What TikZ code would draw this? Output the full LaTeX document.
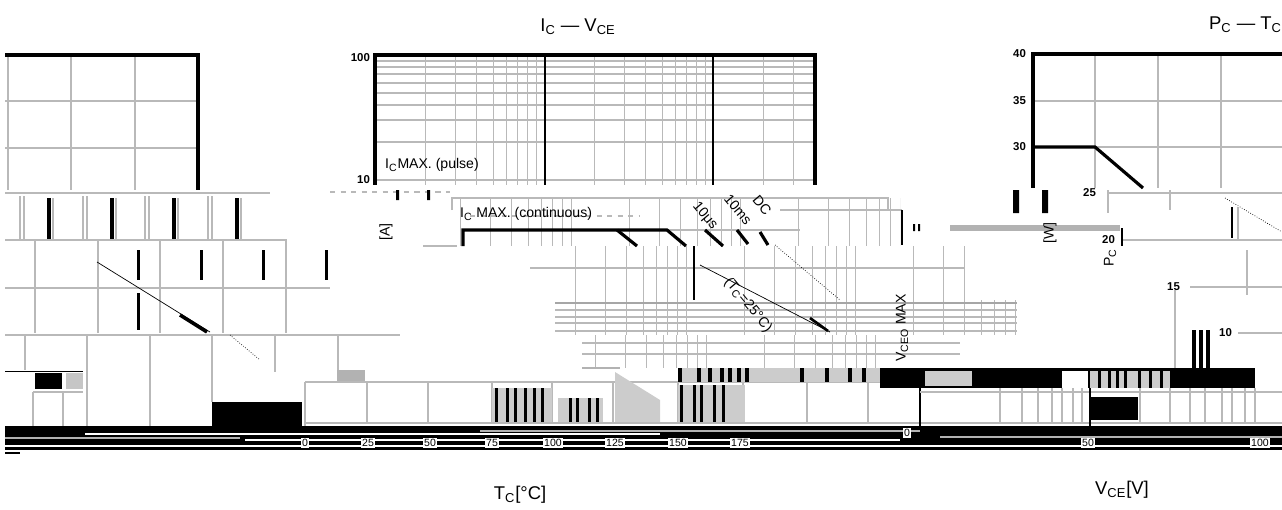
\documentclass[tikz,border=0pt]{standalone}
\usepackage{fontspec}
\setmainfont{Liberation Sans}
\usetikzlibrary{positioning}

\tikzset{
  gridln/.style={gray!55, line width=1pt},
  thinln/.style={gray!55, line width=0.6pt},
  frameln/.style={black, line width=2pt},
  curveln/.style={black, line width=1.8pt},
  ticklbl/.style={font=\fontsize{6.5}{7}\selectfont\bfseries, inner sep=1pt},
  midlbl/.style={font=\fontsize{8}{9}\selectfont, inner sep=1pt},
  axlbl/.style={font=\fontsize{10.5}{12}\selectfont, inner sep=1pt},
  bandlbl/.style={font=\fontsize{6}{7}\selectfont, fill=white, inner sep=0.6pt}
}

% log-spaced verticals: origin, x-min, x-max, y-top, y-bottom
\newcommand{\logverts}[5]{%
  \begin{scope}
    \clip (#2,#4) rectangle (#3,#5);
    \foreach \d in {0,1,2}
      \foreach \v in {2,...,9}
        \draw[thinln] ({#1+169*(\d+log10(\v))},#4) -- ({#1+169*(\d+log10(\v))},#5);
  \end{scope}}

\begin{document}
\begin{tikzpicture}[x=0.02cm, y=-0.02cm]
\useasboundingbox (0,0) rectangle (1282,510);

% left chart
\foreach \x in {8,71,135} \draw[gridln] (\x,55) -- (\x,190);
\foreach \y in {101,148} \draw[gridln] (5,\y) -- (198,\y);
\draw[frameln] (5,55) -- (198,55) -- (198,190);
\draw[gridln] (5,193) -- (270,193);
\foreach \x in {20,83,145,208} \draw[thinln] (\x,196) -- (\x,240) (\x+4,196) -- (\x+4,240);
\foreach \x in {47,110,172,235} {
  \fill (\x,198) rectangle (\x+3.5,240);
  \draw[thinln] (\x+6,198) -- (\x+6,240);
}
\draw[gridln] (5,240) -- (287,240);
\foreach \x in {35,98,160,223,286} \draw[gridln] (\x,240) -- (\x,333);
\foreach \x in {137,200,262,325} \fill (\x,250) rectangle (\x+3,280);
\fill (137,293) rectangle (140,330);
\draw[gridln] (5,288) -- (330,288);
\draw[gridln] (5,335) -- (400,335);
\draw[thin] (97,262) -- (210,332);
\draw[line width=2pt] (180,315) -- (207,332);
\draw[thin, densely dotted] (230,335) -- (260,360);

% left lower panels
\foreach \x/\yb in {25/370,87/428,150/428,212/402,275/372,338/370}
  \draw[gridln] (\x,335) -- (\x,\yb);
\draw (5,371) -- (83,371);
\fill (35,373) rectangle (62,389);
\fill[gray!45] (66,373) rectangle (83,389);
\draw[thinln] (33,392) -- (83,392) (33,392) -- (33,428) (63,392) -- (63,428);
\fill (212,402) rectangle (302,428);
\fill[gray!60] (337,370) rectangle (365,382);
\draw[gridln] (305,382) -- (920,382);
\draw[gridln] (305,382) -- (305,428);
\foreach \x in {367,428,492,552,613,678,743,807,868} \draw[thinln] (\x,382) -- (\x,423);
\fill[gray!40] (492,388) rectangle (552,423);
\foreach \x in {495,506,514,524,533,541} \fill (\x,388) rectangle (\x+3,423);
\fill[gray!40] (558,398) rectangle (603,423);
\foreach \x in {569,576,588,596} \fill (\x,398) rectangle (\x+3,423);
\fill[gray!40] (615,372) -- (660,400) -- (660,423) -- (615,423) -- cycle;
\fill[gray!40] (678,385) rectangle (745,423);
\foreach \x in {680,693,700,713,722} \fill (\x,385) rectangle (\x+3,423);
\draw[gridln] (305,423) -- (1282,423);

% I_C - V_CE chart
\logverts{375}{375}{815}{55}{185}
\foreach \v in {2,...,9}
  \draw[gridln] (375,{180-125*log10(\v)}) -- (815,{180-125*log10(\v)});
\draw[gridln] (375,180) -- (815,180);
\draw[black, line width=1.3pt] (545,55) -- (545,185) (713,55) -- (713,185);
\draw[frameln] (375,185) -- (375,55) -- (815,55) -- (815,185);

% strips below it
\draw[gridln, dashed] (330,192) -- (450,192);
\fill (396,190) rectangle (399,200) (427,190) rectangle (430,200);
\logverts{410}{452}{900}{198}{246}
\draw[thinln] (452,210) -- (452,198) -- (888,198) -- (888,210);
\draw[thinln] (780,210) -- (902,210);
\draw[line width=1.2pt] (902,210) -- (902,245);
\draw[thinln, dashed] (470,216) -- (640,216);
\draw[thinln] (640,230) -- (800,230);
\draw[curveln] (463,246) -- (463,230) -- (667,230) -- (686,246);
\draw[curveln] (617,230) -- (637,246);
\draw[curveln] (705,230) -- (723,246);
\draw[curveln] (737,230) -- (748,244);
\draw[curveln] (760,232) -- (768,245);
\draw[thinln] (423,246) -- (457,246);

\logverts{525}{530}{965}{246}{300}
\draw[thinln] (530,268) -- (965,268);
\draw[line width=1.2pt] (694,246) -- (694,300);
\logverts{525}{555}{1017}{300}{335}
\draw[gray!70, line width=1.5pt] (555,303) -- (1017,303);
\foreach \y in {310,317,323,331} \draw[thinln] (555,\y) -- (1017,\y);
\logverts{545}{582}{920}{335}{368}
\foreach \y in {343,354} \draw[thinln] (582,\y) -- (960,\y);
\draw[gray!60, line width=1.5pt] (582,368) -- (620,368);
\draw[thin] (700,265) -- (830,332);
\draw[line width=1.5pt] (810,318) -- (828,331);
\draw[thin, densely dotted] (775,245) -- (840,300);

% middle bands
\fill[gray!40] (678,368) rectangle (880,382);
\foreach \x in {678,697,708,720,728,737,745,800,825,848,862} \fill (\x,368) rectangle (\x+4,382);
\fill (880,368) rectangle (1255,388);
\fill[gray!40] (925,371) rectangle (972,386);
\fill[white] (1062,371) rectangle (1088,388);
\fill[gray!40] (1090,371) rectangle (1170,388);
\foreach \x in {1098,1108,1116,1124,1138,1149,1160} \fill (\x,371) rectangle (\x+3,388);
\draw[line width=1.5pt] (920,368) -- (920,428);
\draw[thinln] (920,392) -- (1282,392);
\foreach \x in {1000,1022,1038,1052,1062,1073,1082,1140,1170,1190,1205,1222,1232,1245,1255}
  \draw[thinln] (\x,388) -- (\x,423);
\fill (1090,397) rectangle (1138,420);
\draw[line width=1pt] (1090,388) -- (1090,428);

% P_C - T_C chart
\foreach \x in {1095,1158,1221} \draw[gridln] (\x,54) -- (\x,188);
\foreach \y in {101,147} \draw[gridln] (1033,\y) -- (1282,\y);
\draw[frameln] (1033,188) -- (1033,54) -- (1282,54);
\draw[curveln] (1033,147) -- (1095,147) -- (1143,188);
\fill (1013,190) rectangle (1019,213) (1042,190) rectangle (1048,213);
\draw[gridln] (1108,193) -- (1282,193) (1108,190) -- (1108,213) (1170,190) -- (1170,210);
\draw[line width=1.2pt] (1232,207) -- (1232,238);
\draw[thinln] (1238,207) -- (1238,240);
\fill[gray!60] (950,225) rectangle (1120,231);
\fill (913,224) rectangle (915,231) (918,224) rectangle (920,231);
\draw[gridln] (1123,240) -- (1282,240);
\draw[line width=1.2pt] (1122,228) -- (1122,246);
\draw[thin, densely dotted] (1225,198) -- (1282,232);
\draw[gridln] (1190,287) -- (1282,287) (1247,250) -- (1247,295);
\draw[gridln] (1238,333) -- (1282,333);
\draw[thinln] (1175,290) -- (1175,368);
\foreach \x in {1192,1199,1206} \fill (\x,330) rectangle (\x+4,368);

% bottom band
\fill (5,426) rectangle (1282,450);
\draw[white, line width=0.8pt] (85,434) -- (660,434) (245,440) -- (900,440) (5,446) -- (1282,446);
\draw[gray!60, line width=1pt] (5,438) -- (240,438) (480,431) -- (920,431) (940,437) -- (1282,437);
\fill (5,452) rectangle (20,454);

% labels
\node[axlbl] (ttlIV) at (578,27) {I\textsubscript{C} — V\textsubscript{CE}};
\node[axlbl, anchor=west] (ttlPT) at (1207,25) {P\textsubscript{C} — T\textsubscript{C}};
\node[ticklbl, anchor=east] (yh) at (372,58) {100};
\node[ticklbl, anchor=east] (yt) at (372,180) {10};
\node[midlbl, anchor=west] (pulse) at (383,165) {I\textsubscript{C}MAX. (pulse)};
\node[midlbl, anchor=west] (cont) at (458,214) {I\textsubscript{C} MAX. (continuous)};
\node[midlbl, rotate=90] (unitA) at (386,232) {[A]};
\node[midlbl, rotate=-50] (tus) at (705,216) {10μs};
\node[midlbl, rotate=-50] (tms) at (738,210) {10ms};
\node[midlbl, rotate=-50] (dc) at (762,205) {DC};
\node[midlbl, rotate=-50] (tc25) at (748,305) {(T\textsubscript{C}=25°C)};
\node[midlbl, rotate=90] (vceo) at (902,328) {V\textsubscript{CEO} MAX};
\node[midlbl, rotate=90] (unitW) at (1050,233) {[W]};
\node[midlbl, rotate=90] (pc) at (1110,258) {P\textsubscript{C}};
\foreach \t/\y in {40/54,35/101,30/147}
  \node[ticklbl, anchor=east] (p\t) at (1028,\y) {\t};
\node[ticklbl, anchor=east] (p25) at (1098,193) {25};
\node[ticklbl, anchor=east] (p20) at (1117,240) {20};
\node[ticklbl, anchor=east] (p15) at (1182,287) {15};
\node[ticklbl, anchor=east] (p10) at (1234,333) {10};
\foreach \t/\x in {0/305,25/368,50/430,75/492,100/553,125/615,150/678,175/740}
  \node[bandlbl] (tc\t) at (\x,443) {\t};
\node[bandlbl] (vc0) at (907,433) {0};
\node[bandlbl] (vc50) at (1088,443) {50};
\node[bandlbl] (vc100) at (1260,443) {100};
\node[axlbl] (xtc) at (520,495) {T\textsubscript{C}[°C]};
\node[axlbl] (xvce) at (1122,490) {V\textsubscript{CE}[V]};
\end{tikzpicture}
\end{document}
